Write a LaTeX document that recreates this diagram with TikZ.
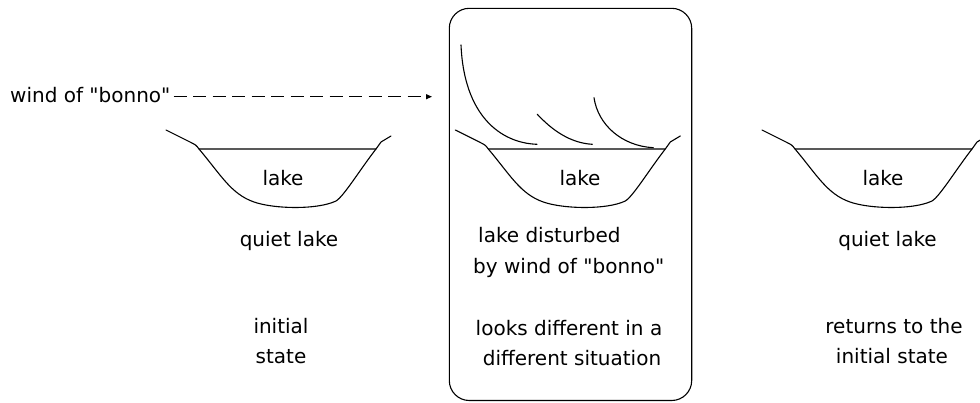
\documentclass[tikz,border=0pt]{standalone}
\usepackage{fontspec}
\setmainfont{DejaVu Sans}[Ligatures=TeXOff]
\usetikzlibrary{arrows.meta}
\begin{document}
\begin{tikzpicture}[x=1pt,y=-1pt,
  stroke/.style={line width=1.1pt, line join=round, line cap=round},
  lbl/.style={font=\fontsize{20}{24}\selectfont, inner sep=0pt, anchor=base},
  lblw/.style={lbl, anchor=base west},
  lake/.pic={
    % banks and water surface
    \draw[stroke] (-33,-19) -- (-9,-7) .. controls (-3,-4) .. (0,0) -- (177,0)
          .. controls (179,-4) .. (182,-7) -- (192,-13);
    % lake bed
    \draw[stroke] (0,0) .. controls (22,26) and (32,45) .. (55,53)
          .. controls (75,60) and (118,61) .. (137,52)
          .. controls (145,47) and (160,22) .. (177,0);
  }
]
\useasboundingbox (0,0) rectangle (980,402);
\clip (0,0) rectangle (980,402);

% the three lakes
\pic at (199,149) {lake};
\pic at (488.3,149) {lake};
\pic at (795,149) {lake};

\node[lbl] (lakeA) at (283,185.5) {lake};
\node[lbl] (lakeB) at (580,185.5) {lake};
\node[lbl] (lakeC) at (883,185.5) {lake};

% wind blowing towards the middle lake
\node[lblw] (wind) at (10,102) {wind of "bonno"};
\coordinate (windtip) at (432,96.7);
\draw[stroke, line cap=butt, dash pattern=on 13pt off 6.5pt,
      -{Triangle[length=6pt,width=5pt]}] (wind.east |- windtip) ++(3,0) -- (windtip);

% waves raised by the wind
\draw[stroke] (461,45) .. controls (464,115) and (500,143) .. (537,144.3);
\draw[stroke] (537.3,114.3) .. controls (552,130) and (570,143) .. (592.3,144.3);
\draw[stroke] (594,97.7) .. controls (598,125) and (622,146) .. (653.3,147.7);

% frame around the disturbed state
\draw[stroke, rounded corners=20pt] (449.3,8.3) rectangle (691.7,400.5);

% captions
\node[lbl] (quietA) at (289,246) {quiet lake};
\node[lbl] (initA) at (281,333.5) {initial};
\node[lbl] (initB) at (281,363.5) {state};

\node[lblw] (distA) at (478,242.5) {lake disturbed};
\node[lblw] (distB) at (473,273.5) {by wind of "bonno"};
\node[lbl] (diffA) at (569,335.5) {looks different in a};
\node[lbl] (diffB) at (572,365.5) {different situation};

\node[lbl] (quietC) at (887.5,246) {quiet lake};
\node[lbl] (retA) at (894,333.5) {returns to the};
\node[lbl] (retB) at (892,363.5) {initial state};
\end{tikzpicture}
\end{document}
